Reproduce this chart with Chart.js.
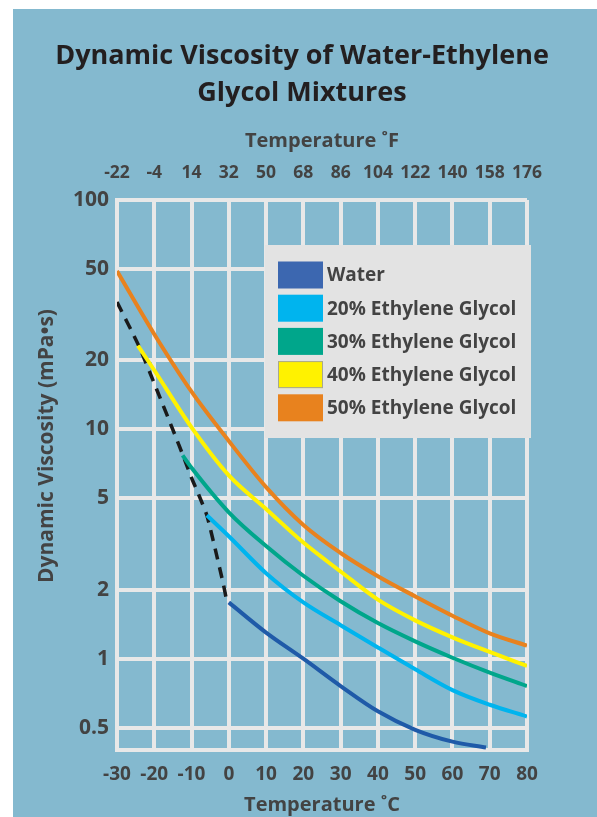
<!DOCTYPE html>
<html>
<head>
<meta charset="utf-8">
<script src="https://cdn.jsdelivr.net/npm/chart.js@4.4.1/dist/chart.umd.min.js"></script>
<style>
  html, body { margin: 0; padding: 0; background: #ffffff; }
  #wrap { width: 597px; height: 817px; position: relative; }
</style>
</head>
<body>
<div id="wrap"><canvas id="chart" width="597" height="817"></canvas></div>
<script>
// values (temperature in C, viscosity in mPa.s)
const waterTemp = [0, 10, 20, 30, 40, 50, 60, 69];
const waterVisc = [1.76, 1.3, 1.0, 0.76, 0.59, 0.49, 0.435, 0.41];

const eg20Temp = [-5.9, 0, 10, 20, 30, 40, 50, 60, 70, 80];
const eg20Visc = [4.22, 3.42, 2.36, 1.76, 1.40, 1.12, 0.90, 0.73, 0.63, 0.56];

const eg30Temp = [-12.4, -10, 0, 10, 20, 30, 40, 50, 60, 70, 80];
const eg30Visc = [7.7, 6.8, 4.35, 3.1, 2.3, 1.78, 1.43, 1.19, 1.01, 0.87, 0.76];

const eg40Temp = [-24.4, -20, -10, 0, 10, 20, 30, 40, 50, 60, 70, 80];
const eg40Visc = [23.2, 18.1, 10.2, 6.3, 4.5, 3.21, 2.40, 1.81, 1.47, 1.24, 1.07, 0.93];

const eg50Temp = [-30, -20, -10, 0, 10, 20, 30, 40, 50, 60, 70, 80];
const eg50Visc = [49, 26, 14.6, 8.9, 5.6, 3.83, 2.89, 2.29, 1.87, 1.54, 1.29, 1.14];

// freezing limit (dashed)
const freezeTemp = [-30, -24.2, -19.4, -14.5, -12.3, -10.1, -8.1, -5.9, -3.7, -1.4, -0.5];
const freezeVisc = [35.9, 23.2, 15.0, 9.5, 7.7, 6.2, 5.2, 4.22, 3.03, 2.09, 1.76];

const celsiusTicks = [-30, -20, -10, 0, 10, 20, 30, 40, 50, 60, 70, 80];
const fahrenheitLabels = ['-22', '-4', '14', '32', '50', '68', '86', '104', '122', '140', '158', '176'];
const viscosityTicks = [100, 50, 20, 10, 5, 2, 1, 0.5];

const titleLines = ['Dynamic Viscosity of Water-Ethylene', 'Glycol Mixtures'];
const yTitle = 'Dynamic Viscosity (mPa•s)';

const FONT = '"Open Sans", Lato, sans-serif';
const TEXT = '#434343';
const GRID = '#e8e8e8';

function pts(xs, ys) {
  return xs.map((x, i) => ({ x: x, y: ys[i] }));
}

function series(label, xs, ys, color, swatch) {
  return {
    label: label,
    data: pts(xs, ys),
    borderColor: color,
    swatchColor: swatch || color,
    borderWidth: 4,
    pointRadius: 0,
    fill: false,
    tension: 0.4,
    cubicInterpolationMode: 'monotone'
  };
}

// blue panel behind everything
const panelBg = {
  id: 'panelBg',
  beforeDraw(chart) {
    const c = chart.ctx;
    c.save();
    c.fillStyle = '#ffffff';
    c.fillRect(0, 0, chart.width, chart.height);
    c.fillStyle = '#84b9cf';
    c.fillRect(13, 9, chart.width - 13, chart.height - 9);
    c.restore();
  }
};

// page title (centred on the panel) and the y title, placed as in the original
const headings = {
  id: 'headings',
  afterDraw(chart) {
    const c = chart.ctx;
    const a = chart.chartArea;
    c.save();
    c.textAlign = 'center';
    c.textBaseline = 'middle';
    c.fillStyle = '#231f20';
    c.font = 'bold 27px ' + FONT;
    titleLines.forEach((t, i) => c.fillText(t, 302, 56 + i * 37));
    c.fillStyle = TEXT;
    c.font = 'bold 21px ' + FONT;
    c.translate(a.left - 70, a.top + 246);
    c.rotate(-Math.PI / 2);
    c.fillText(yTitle, 0, 0);
    c.restore();
  }
};

// gray legend box inside the plot, like the original
const boxLegend = {
  id: 'boxLegend',
  afterDraw(chart) {
    const c = chart.ctx;
    const a = chart.chartArea;
    const x0 = a.left + 148, y0 = a.top + 45, w = 266, h = 193;
    c.save();
    c.fillStyle = '#e3e3e3';
    c.fillRect(x0, y0, w, h);
    c.font = 'bold 19px ' + FONT;
    c.textBaseline = 'middle';
    c.textAlign = 'left';
    const items = chart.data.datasets.filter(d => d.label);
    items.forEach((d, i) => {
      const cy = y0 + 30 + i * 33.2;
      c.fillStyle = d.swatchColor;
      c.fillRect(x0 + 13, cy - 13.5, 45, 27);
      if (i === 3) {
        c.strokeStyle = '#a8a890';
        c.lineWidth = 1;
        c.strokeRect(x0 + 13.5, cy - 13, 44, 26);
      }
      c.fillStyle = TEXT;
      c.fillText(d.label, x0 + 62, cy + 1);
    });
    c.restore();
  }
};

const datasets = [
  series('Water', waterTemp, waterVisc, '#1f5aa8', '#3c67b0'),
  series('20% Ethylene Glycol', eg20Temp, eg20Visc, '#00b4ee'),
  series('30% Ethylene Glycol', eg30Temp, eg30Visc, '#00a68b'),
  series('40% Ethylene Glycol', eg40Temp, eg40Visc, '#fff200'),
  series('50% Ethylene Glycol', eg50Temp, eg50Visc, '#e8821e'),
  {
    label: '',
    data: pts(freezeTemp, freezeVisc),
    borderColor: '#1a1a1a',
    borderWidth: 3.5,
    borderDash: [11, 8],
    pointRadius: 0,
    fill: false,
    tension: 0.2
  }
];

new Chart(document.getElementById('chart'), {
  type: 'line',
  data: { datasets: datasets },
  plugins: [panelBg, headings, boxLegend],
  options: {
    responsive: false,
    animation: false,
    devicePixelRatio: 1,
    layout: { padding: { left: 33, right: 70, top: 110.5, bottom: 0 } },
    plugins: {
      legend: { display: false },
      tooltip: { enabled: false },
      title: { display: false }
    },
    scales: {
      x: {
        type: 'linear',
        position: 'bottom',
        min: -30,
        max: 80,
        afterBuildTicks(scale) { scale.ticks = celsiusTicks.map(v => ({ value: v })); },
        afterFit(scale) { scale.height = 67; },
        grid: { color: GRID, lineWidth: 4, drawTicks: false },
        border: { color: GRID, width: 4 },
        ticks: {
          color: TEXT,
          padding: 13,
          maxRotation: 0,
          font: { family: FONT, size: 19, weight: 'bold' }
        },
        title: {
          display: true,
          text: 'Temperature ˚C',
          color: TEXT,
          font: { family: FONT, size: 20, weight: 'bold' },
          padding: { top: 5, bottom: 0 }
        }
      },
      xF: {
        type: 'linear',
        position: 'top',
        min: -30,
        max: 80,
        afterBuildTicks(scale) { scale.ticks = celsiusTicks.map(v => ({ value: v })); },
        afterFit(scale) { scale.height = 89.5; },
        grid: { display: false, drawTicks: false },
        border: { display: false },
        ticks: {
          color: TEXT,
          padding: 16,
          maxRotation: 0,
          font: { family: FONT, size: 17.5, weight: 'bold' },
          callback: (v, i) => fahrenheitLabels[i]
        },
        title: {
          display: true,
          text: 'Temperature ˚F',
          color: TEXT,
          font: { family: FONT, size: 20, weight: 'bold' },
          padding: { top: 19, bottom: 0 }
        }
      },
      y: {
        type: 'logarithmic',
        min: 0.4,
        max: 100,
        afterBuildTicks(scale) { scale.ticks = viscosityTicks.map(v => ({ value: v })); },
        afterFit(scale) { scale.width = 84; },
        grid: { color: GRID, lineWidth: 4, drawTicks: false },
        border: { color: GRID, width: 4 },
        ticks: {
          color: TEXT,
          padding: 8,
          font: { family: FONT, size: 21, weight: 'bold' },
          callback: v => String(v)
        },
        title: { display: false }
      }
    }
  }
});
</script>
</body>
</html>
